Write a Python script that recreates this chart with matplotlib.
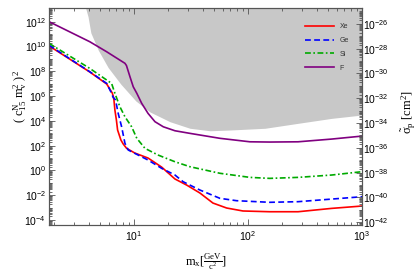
import numpy as np
import matplotlib.pyplot as plt
from matplotlib.ticker import FixedLocator, LogLocator, NullFormatter

plt.rcParams['font.family'] = 'Liberation Sans'
plt.rcParams['mathtext.default'] = 'regular'

# dark matter mass [GeV] and log10 of (c15 mv^2)^2
xe_m = [1.8, 4.1, 5.77, 6.46, 6.58, 6.68, 6.81, 7.02, 7.19, 7.69, 8.06, 8.63, 10.2, 13.3, 17.5, 22.9, 29.0, 37.9, 49.3, 65.0, 90.4, 155, 275, 542, 1000]
xe_y = [10.05, 7.94, 6.97, 6.24, 6.0, 5.68, 4.87, 4.06, 3.26, 2.45, 2.13, 1.78, 1.40, 1.0, 0.27, -0.69, -1.18, -1.82, -2.63, -3.03, -3.27, -3.33, -3.33, -3.06, -2.87]

ge_m = [1.8, 4.1, 5.77, 6.37, 6.55, 6.90, 7.28, 7.80, 8.34, 8.91, 10.9, 13.3, 17.5, 22.9, 27.0, 37.9, 56.8, 79.4, 155, 275, 542, 1000]
ge_y = [10.1, 7.96, 7.02, 6.22, 5.92, 5.68, 4.60, 3.52, 2.19, 1.65, 1.24, 0.84, 0.17, -0.37, -0.91, -1.58, -2.25, -2.44, -2.57, -2.52, -2.31, -2.12]

si_m = [1.8, 4.1, 5.77, 6.37, 6.81, 7.53, 8.34, 9.55, 10.6, 12.5, 16.3, 22.9, 31.0, 56.8, 104, 155, 275, 542, 1000]
si_y = [10.25, 8.23, 7.29, 7.02, 6.22, 5.14, 4.33, 3.52, 2.59, 1.78, 1.24, 0.70, 0.30, -0.23, -0.56, -0.64, -0.56, -0.37, -0.10]

f_m = [1.8, 4.1, 5.77, 8.34, 8.6, 9.23, 9.86, 10.6, 11.7, 13.3, 15.3, 18.1, 22.9, 31.0, 56.8, 104, 155, 275, 542, 1000]
f_y = [12.0, 10.38, 9.57, 8.64, 8.46, 7.56, 6.75, 6.22, 5.41, 4.60, 3.93, 3.52, 3.20, 2.99, 2.59, 2.31, 2.29, 2.31, 2.53, 2.77]

# excluded region (lower boundary)
excl_m = [3.7, 3.77, 3.96, 4.19, 4.87, 5.94, 7.69, 10.4, 13.8, 20.7, 31.0, 46.5, 69.5, 141, 275, 542, 1000]
excl_y = [14.0, 13.1, 12.4, 11.1, 9.7, 8.3, 6.95, 5.6, 4.72, 3.93, 3.40, 3.20, 3.26, 3.40, 3.80, 4.20, 4.47]

fig = plt.figure(figsize=(4.19, 2.73), dpi=100)
ax = fig.add_axes([49/419, 48/273, 313/419, 217/273])

ax.fill_between(excl_m, 10**np.array(excl_y), 1e15, color='#c8c8c8', lw=0, zorder=1)
ax.plot(xe_m, 10**np.array(xe_y), color='#ff0000', lw=1.2, label='Xe', zorder=3)
ax.plot(ge_m, 10**np.array(ge_y), color='#0000ff', lw=1.2, ls=(0, (3.5, 2)), label='Ge', zorder=4)
ax.plot(si_m, 10**np.array(si_y), color='#00aa00', lw=1.2, ls=(0, (3.5, 1.5, 1, 1.5)), label='Si', zorder=5)
ax.plot(f_m, 10**np.array(f_y), color='#800080', lw=1.2, label='F', zorder=6)

ax.set_xscale('log')
ax.set_yscale('log')
ax.set_xlim(1.8, 1000)
ax.set_ylim(10**-4.4, 10**13.1)
ax.yaxis.set_major_locator(FixedLocator(10.0**np.arange(-4, 13, 2)))
ax.yaxis.set_minor_locator(LogLocator(base=10, subs=np.arange(1, 10), numticks=60))
ax.yaxis.set_minor_formatter(NullFormatter())

ax2 = ax.twinx()
ax2.set_yscale('log')
ax2.set_ylim(10**-42.22, 10**-24.72)
ax2.yaxis.set_major_locator(FixedLocator(10.0**np.arange(-42, -25, 2)))
ax2.yaxis.set_minor_locator(LogLocator(base=10, subs=np.arange(1, 10), numticks=60))
ax2.yaxis.set_minor_formatter(NullFormatter())

for a in (ax, ax2):
    for s in a.spines.values():
        s.set_color('#555555')
        s.set_linewidth(0.8)
    a.tick_params(which='both', direction='in', color='#555555', width=0.6, labelsize=7.5)
    a.tick_params(which='major', length=4)
    a.tick_params(which='minor', length=2)
ax.tick_params(which='both', top=True, right=False)
ax.tick_params(axis='y', pad=2)
ax.tick_params(axis='x', pad=3)
ax2.tick_params(axis='y', pad=1)

ax.set_ylabel(r'( c$_{15}^{N}$ m$_{v}^{2}$ )$^{2}$', fontfamily='Liberation Serif', fontsize=9)
ax.yaxis.set_label_coords(-0.065, 0.59)
ax2.set_ylabel(r'$\tilde{\sigma}_{p}$ [cm$^{2}$]', fontfamily='Liberation Serif', fontsize=9)
ax2.yaxis.set_label_coords(1.12, 0.52)
ax.set_xlabel(r'm$_{x}$[$\frac{GeV}{c^{2}}$]', fontfamily='Liberation Serif', fontsize=9)
ax.xaxis.set_label_coords(0.5, -0.125)

ax.legend(loc='upper left', bbox_to_anchor=(305/419, 1 - 23/273), bbox_transform=fig.transFigure,
          frameon=False, fontsize=5, handlelength=4.2, handletextpad=0.8, labelspacing=1.0,
          borderpad=0, borderaxespad=0, labelcolor='#333333')

fig.savefig('out.png', dpi=100)
